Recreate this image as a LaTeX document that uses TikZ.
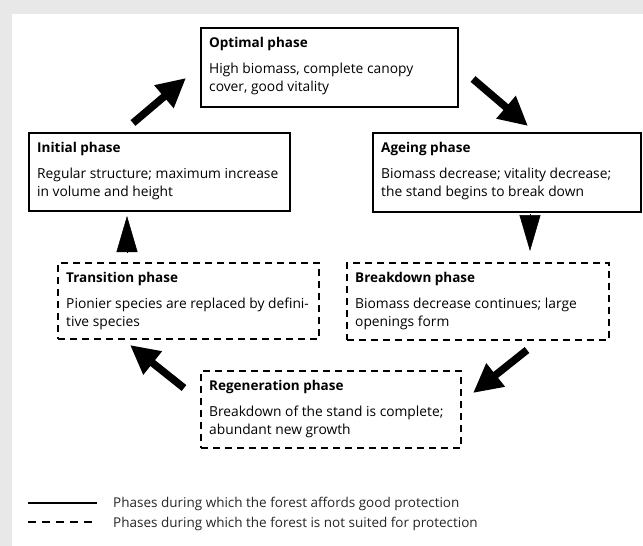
\documentclass[tikz,border=0pt]{standalone}
\usepackage{fontspec}
\setmainfont{Open Sans}
\usetikzlibrary{arrows.meta,calc}
\begin{document}
\begin{tikzpicture}[x=1pt,y=-1pt,
  phase/.style={draw=black, line width=2.4pt, anchor=north west, inner sep=0pt},
  solidbox/.style={phase},
  dashbox/.style={phase, dash pattern=on 7pt off 5pt},
  ttl/.style={anchor=base west, inner sep=0pt, font=\fontsize{13.5}{16}\selectfont\bfseries},
  txt/.style={anchor=base west, inner sep=0pt, font=\fontsize{13.8}{18}\selectfont},
  bigarrow/.style={line width=7.5pt, -{Triangle[length=29pt,width=28pt]}},
  tri/.style={line width=0.5pt, -{Triangle[length=36pt,width=21pt]}},
  legtxt/.style={anchor=base west, inner sep=0pt, font=\fontsize{13.5}{16}\selectfont, text=black!85}
]
\useasboundingbox (0,0) rectangle (643,546);
\fill[black!9] (0,0) rectangle (643,546);
\fill[white] (12,14) rectangle (643,546);

% boxes
\node[solidbox, minimum width=257pt, minimum height=79pt] (opt) at (200,27) {};
\node[solidbox, minimum width=261pt, minimum height=78pt] (ini) at (28,132) {};
\node[solidbox, minimum width=268pt, minimum height=79pt] (age) at (372,132) {};
\node[dashbox, minimum width=261pt, minimum height=76pt] (tra) at (57,262) {};
\node[dashbox, minimum width=262pt, minimum height=77pt] (bre) at (346,262) {};
\node[dashbox, minimum width=260pt, minimum height=77pt] (reg) at (200,370) {};

% texts
\node[ttl] (optT) at ($(opt.north west)+(9,20)$) {Optimal phase};
\node[txt] (optB) at ($(opt.north west)+(9,46)$) {\parbox[t]{250pt}{\raggedright High biomass, complete canopy\\cover, good vitality}};
\node[ttl] (iniT) at ($(ini.north west)+(9,20)$) {Initial phase};
\node[txt] (iniB) at ($(ini.north west)+(9,46)$) {\parbox[t]{260pt}{\raggedright Regular structure; maximum increase\\in volume and height}};
\node[ttl] (ageT) at ($(age.north west)+(9,20)$) {Ageing phase};
\node[txt] (ageB) at ($(age.north west)+(9,46)$) {\parbox[t]{260pt}{\raggedright Biomass decrease; vitality decrease;\\the stand begins to break down}};
\node[ttl] (traT) at ($(tra.north west)+(9,20)$) {Transition phase};
\node[txt] (traB) at ($(tra.north west)+(9,46)$) {\parbox[t]{260pt}{\raggedright Pionier species are replaced by defini-\\tive species}};
\node[ttl] (breT) at ($(bre.north west)+(9,20)$) {Breakdown phase};
\node[txt] (breB) at ($(bre.north west)+(9,46)$) {\parbox[t]{260pt}{\raggedright Biomass decrease continues; large\\openings form}};
\node[ttl] (regT) at ($(reg.north west)+(9,20)$) {Regeneration phase};
\node[txt] (regB) at ($(reg.north west)+(9,46)$) {\parbox[t]{260pt}{\raggedright Breakdown of the stand is complete;\\abundant new growth}};

% arrow end points
\coordinate (a1s) at (133,123); \coordinate (a1e) at (186,78);
\coordinate (a2s) at (473,79);  \coordinate (a2e) at (528,126);
\coordinate (a3s) at (530,214); \coordinate (a3e) at (530,251);
\coordinate (a5s) at (527,350); \coordinate (a5e) at (473,393);
\coordinate (a6s) at (184,388); \coordinate (a6e) at (130,345);
\coordinate (a4s) at (127,253); \coordinate (a4e) at (127,216);

\draw[bigarrow] (a1s) -- (a1e);
\draw[bigarrow] (a2s) -- (a2e);
\draw[tri] (a3s) -- (a3e);
\draw[bigarrow] (a5s) -- (a5e);
\draw[bigarrow] (a6s) -- (a6e);
\draw[tri] (a4s) -- (a4e);

% legend
\coordinate (l1s) at (28,503); \coordinate (l1e) at (97,503);
\coordinate (l2s) at (28,522); \coordinate (l2e) at (97,522);
\draw[line width=2pt] (l1s) -- (l1e);
\draw[line width=2pt, dash pattern=on 8pt off 6pt] (l2s) -- (l2e);
\node[legtxt] (leg1) at (113,507) {Phases during which the forest affords good protection};
\node[legtxt] (leg2) at (113,527) {Phases during which the forest is not suited for protection};
\end{tikzpicture}
\end{document}
